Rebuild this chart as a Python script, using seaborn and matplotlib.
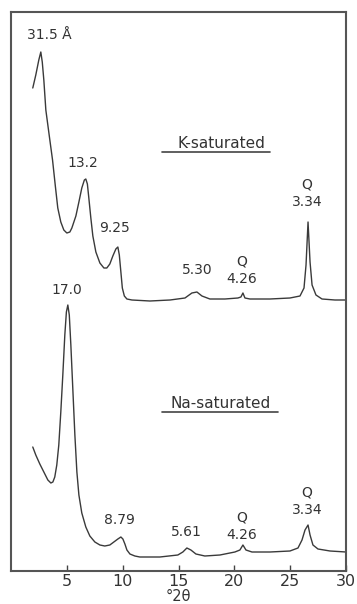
import numpy as np
import pandas as pd
import matplotlib
matplotlib.use("Agg")
import matplotlib.pyplot as plt
import seaborn as sns
from matplotlib.lines import Line2D

# ---- data (2theta in degrees, intensity in arbitrary units) ----
k_2theta = [1.95, 2.22, 2.49, 2.67, 2.80, 2.94, 3.12, 3.43, 3.72, 3.97, 4.19, 4.46,
            4.73, 5.00, 5.27, 5.45, 5.81, 6.08, 6.34, 6.57, 6.70, 6.84, 6.97, 7.15,
            7.33, 7.60, 7.96, 8.32, 8.58, 8.85, 9.12, 9.39, 9.57, 9.70, 9.84, 9.97,
            10.15, 10.38, 10.83, 12.44, 14.24,
            15.58, 16.20, 16.65, 17.10, 17.81, 19.16, 20.32, 20.59, 20.77, 20.95,
            21.40, 23.19, 24.98, 25.88, 26.24, 26.42, 26.60, 26.78, 26.96, 27.31,
            27.85, 29.01, 30.0]
k_intensity = [483, 496, 511, 519, 509, 491, 461, 435, 411, 385, 363, 349,
               341, 338, 339, 343, 355, 369, 383, 391, 392, 387, 373, 353,
               335, 319, 308, 303, 303, 307, 315, 322, 324, 316, 299, 283,
               275, 272, 271, 270, 271,
               273, 278, 279, 275, 272, 272, 273, 274, 278, 273,
               272, 272, 273, 275, 283, 306, 349, 309, 286, 276,
               272, 271, 271]

na_2theta = [1.95, 2.22, 2.58, 2.94, 3.30, 3.57, 3.75, 3.92, 4.10, 4.28, 4.46, 4.64,
             4.82, 4.96, 5.09, 5.22, 5.36, 5.54, 5.72, 5.90, 6.08, 6.34, 6.70, 7.06,
             7.51, 7.96, 8.40, 8.85, 9.21, 9.57, 9.84, 10.02, 10.20, 10.38, 10.65,
             11.09, 11.54, 13.33, 14.94, 15.39, 15.75, 16.11, 16.56, 17.36,
             18.71, 20.05, 20.50, 20.77, 21.04, 21.58, 23.19, 24.98, 25.70, 26.06,
             26.33, 26.60, 26.78, 27.04, 27.49, 28.57, 30.0]
na_intensity = [124, 116, 107, 99, 91, 88, 89, 94, 106, 126, 159, 196,
                236, 259, 266, 256, 226, 181, 136, 99, 76, 58, 44, 35,
                29, 26, 25, 26, 29, 32, 34, 32, 27, 21, 17,
                15, 14, 14, 16, 19, 23, 21, 17, 15,
                16, 19, 21, 26, 21, 19, 19, 20, 23, 31,
                41, 46, 36, 26, 22, 20, 19]

series_names = ["K-saturated", "Na-saturated"]
x_ticks = [5, 10, 15, 20, 25, 30]
x_label = "°2θ"

# peak labels: (text, 2theta position, intensity position)
k_labels = [("31.5 Å", 3.4, 536), ("13.2", 6.45, 408), ("9.25", 9.3, 343),
            ("5.30", 16.65, 301), ("Q\n4.26", 20.7, 301), ("Q\n3.34", 26.5, 378)]
na_labels = [("17.0", 5.0, 281), ("8.79", 9.75, 51), ("5.61", 15.75, 39),
             ("Q\n4.26", 20.7, 45), ("Q\n3.34", 26.5, 70)]

df = pd.concat([
    pd.DataFrame({"2theta": k_2theta, "I": k_intensity, "sample": series_names[0]}),
    pd.DataFrame({"2theta": na_2theta, "I": na_intensity, "sample": series_names[1]}),
])

sns.set_theme(style="white")
plt.rcParams["font.family"] = ["DejaVu Sans"]

W, H = 357, 604
fig = plt.figure(figsize=(W / 100, H / 100), dpi=100)
ax = fig.add_axes([11 / W, (H - 571) / H, (346 - 11) / W, (571 - 12) / H])

sns.lineplot(data=df, x="2theta", y="I", units="sample", estimator=None,
             sort=False, color="#3a3a3a", linewidth=1.0, ax=ax, legend=False)

ax.set_xlim(0, 30)
ax.set_ylim(0, 559)
ax.set_xticks(x_ticks)
ax.set_xticklabels([str(t) for t in x_ticks])
ax.set_yticks([])
ax.set_xlabel(x_label, fontsize=10.5, color="#333333", labelpad=0)
ax.set_ylabel("")
ax.tick_params(axis="x", direction="in", length=4, width=1.0, colors="#444444",
               labelsize=11.5, labelcolor="#333333", pad=2, bottom=True)
for s in ax.spines.values():
    s.set_visible(True)
    s.set_color("#555555")
    s.set_linewidth(1.5)

txt_kw = dict(ha="center", va="center", fontsize=10, color="#333333", linespacing=1.3)
for t, x, y in k_labels + na_labels:
    ax.text(x, y, t, **txt_kw)

# series names with underline
ax.text(0.628, 0.765, series_names[0], transform=ax.transAxes, ha="center", va="center",
        fontsize=11, color="#333333")
ax.text(0.625, 0.30, series_names[1], transform=ax.transAxes, ha="center", va="center",
        fontsize=11, color="#333333")
fig.add_artist(Line2D([162 / W, 270 / W], [1 - 152 / H, 1 - 152 / H], color="#444444", lw=1.2))
fig.add_artist(Line2D([162 / W, 278 / W], [1 - 412 / H, 1 - 412 / H], color="#444444", lw=1.2))

fig.savefig("out.png", dpi=100, facecolor="white")
